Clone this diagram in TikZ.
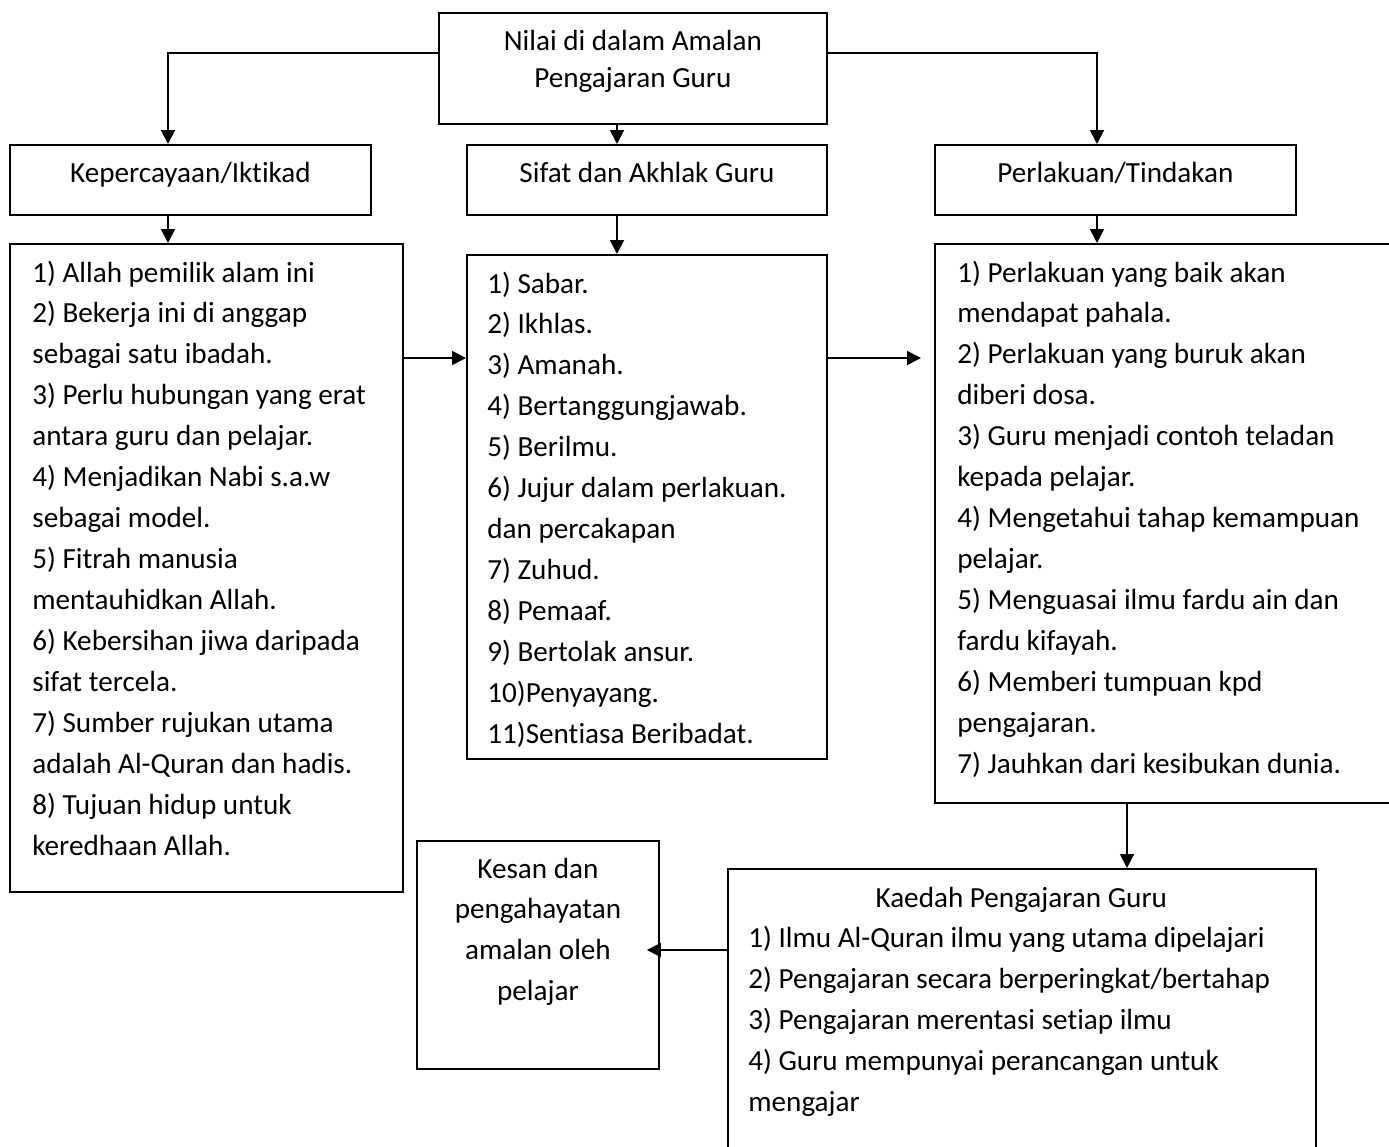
\documentclass[tikz,border=0pt]{standalone}
\usepackage{fontspec}
\setmainfont{Carlito}[Ligatures=NoCommon]
\usepackage{tikz}
\usetikzlibrary{calc,arrows.meta}
\newcommand{\txt}{\fontsize{16.6pt}{23.3pt}\selectfont}
\newcommand{\ttl}{\fontsize{16.6pt}{20.5pt}\selectfont}

\begin{document}
\begin{tikzpicture}[x=0.02cm,y=-0.02cm,>={Triangle[length=0.28cm,width=0.28cm]}]
  \tikzstyle{mybox}=[draw, line width=1.1pt, anchor=north west, inner sep=0pt]
  \tikzstyle{myhead}=[mybox, minimum height=1.4cm, font=\txt,
              text height=12pt, text depth=8.6pt]
  \tikzstyle{mytxt}=[anchor=base west, inner sep=0pt, font=\txt]
  \tikzstyle{myarr}=[->, line width=1.1pt]
  \useasboundingbox (0,0) rectangle (1389,1146);
  \clip (0,0) rectangle (1389,1146);
  % top
  \node[mybox, minimum width=7.76cm, minimum height=2.22cm] (nilai) at (438,12) {};
  \node[anchor=base, inner sep=0pt, font=\ttl] (nilait) at ($(nilai.north)+(0,39)$)
    {\parbox[t]{7cm}{\centering Nilai di dalam Amalan\\Pengajaran Guru}};
  % headings
  \node[myhead, minimum width=7.22cm] (kep) at (9,144) {Kepercayaan/Iktikad};
  \node[myhead, minimum width=7.2cm] (sifat) at (466,144) {Sifat dan Akhlak Guru};
  \node[myhead, minimum width=7.22cm] (perl) at (934,144) {Perlakuan/Tindakan};
  % Kepercayaan list
  \node[mybox, minimum width=7.86cm, minimum height=12.96cm] (kepl) at (9,243) {};
  \node[mytxt] (keplt) at ($(kepl.north west)+(23,39)$) {\parbox[t]{7.4cm}{\raggedright
    1) Allah pemilik alam ini\\
    2) Bekerja ini di anggap\\
    sebagai satu ibadah.\\
    3) Perlu hubungan yang erat\\
    antara guru dan pelajar.\\
    4) Menjadikan Nabi s.a.w\\
    sebagai model.\\
    5) Fitrah manusia\\
    mentauhidkan Allah.\\
    6) Kebersihan jiwa daripada\\
    sifat tercela.\\
    7) Sumber rujukan utama\\
    adalah Al-Quran dan hadis.\\
    8) Tujuan hidup untuk\\
    keredhaan Allah.}};
  % Sifat list
  \node[mybox, minimum width=7.2cm, minimum height=10.08cm] (sifatl) at (466,254) {};
  \node[mytxt] (sifatlt) at ($(sifatl.north west)+(21,39)$) {\parbox[t]{6.8cm}{\raggedright
    1) Sabar.\\
    2) Ikhlas.\\
    3) Amanah.\\
    4) Bertanggungjawab.\\
    5) Berilmu.\\
    6) Jujur dalam perlakuan.\\
    dan percakapan\\
    7) Zuhud.\\
    8) Pemaaf.\\
    9) Bertolak ansur.\\
    10)Penyayang.\\
    11)Sentiasa Beribadat.}};
  % Perlakuan list
  \node[mybox, minimum width=9.32cm, minimum height=11.18cm] (perll) at (934,243) {};
  \node[mytxt] (perllt) at ($(perll.north west)+(23,39)$) {\parbox[t]{8.5cm}{\raggedright
    1) Perlakuan yang baik akan\\
    mendapat pahala.\\
    2) Perlakuan yang buruk akan\\
    diberi dosa.\\
    3) Guru menjadi contoh teladan\\
    kepada pelajar.\\
    4) Mengetahui tahap kemampuan\\
    pelajar.\\
    5) Menguasai ilmu fardu ain dan\\
    fardu kifayah.\\
    6) Memberi tumpuan kpd\\
    pengajaran.\\
    7) Jauhkan dari kesibukan dunia.}};
  % Kesan
  \node[mybox, minimum width=4.84cm, minimum height=4.56cm] (kesan) at (416,840) {};
  \node[anchor=base, inner sep=0pt, font=\txt] (kesant) at ($(kesan.north)+(0,38)$)
    {\parbox[t]{4.4cm}{\centering Kesan dan\\pengahayatan\\amalan oleh\\pelajar}};
  % Kaedah
  \node[mybox, minimum width=11.76cm, minimum height=6.04cm] (kaedah) at (727,868) {};
  \node[mytxt] (kaedaht) at ($(kaedah.north west)+(21,39)$) {\parbox[t]{10.92cm}{%
    {\centering Kaedah Pengajaran Guru\par}\raggedright
    1) Ilmu Al-Quran ilmu yang utama dipelajari\\
    2) Pengajaran secara berperingkat/bertahap\\
    3) Pengajaran merentasi setiap ilmu\\
    4) Guru mempunyai perancangan untuk\\
    mengajar}};
  % arrows
  \draw[myarr] (nilai.west |- 0,53) -| (168,0 |- kep.north);
  \draw[myarr] (nilai.east |- 0,53) -| (1097,0 |- perl.north);
  \draw[myarr] (617,0 |- nilai.south) -- (617,0 |- sifat.north);
  \draw[myarr] (168,0 |- kep.south) -- (168,0 |- kepl.north);
  \draw[myarr] (617,0 |- sifat.south) -- (617,0 |- sifatl.north);
  \draw[myarr] (1097,0 |- perl.south) -- (1097,0 |- perll.north);
  \draw[myarr] (kepl.east |- 0,358) -- (sifatl.west |- 0,358);
  \draw[myarr, shorten >=0.26cm] (sifatl.east |- 0,358) -- (perll.west |- 0,358);
  \draw[myarr] (1127,0 |- perll.south) -- (1127,0 |- kaedah.north);
  \draw[myarr, shorten >=-0.26cm] (kaedah.west |- 0,950) -- (kesan.east |- 0,950);
\end{tikzpicture}
\end{document}
